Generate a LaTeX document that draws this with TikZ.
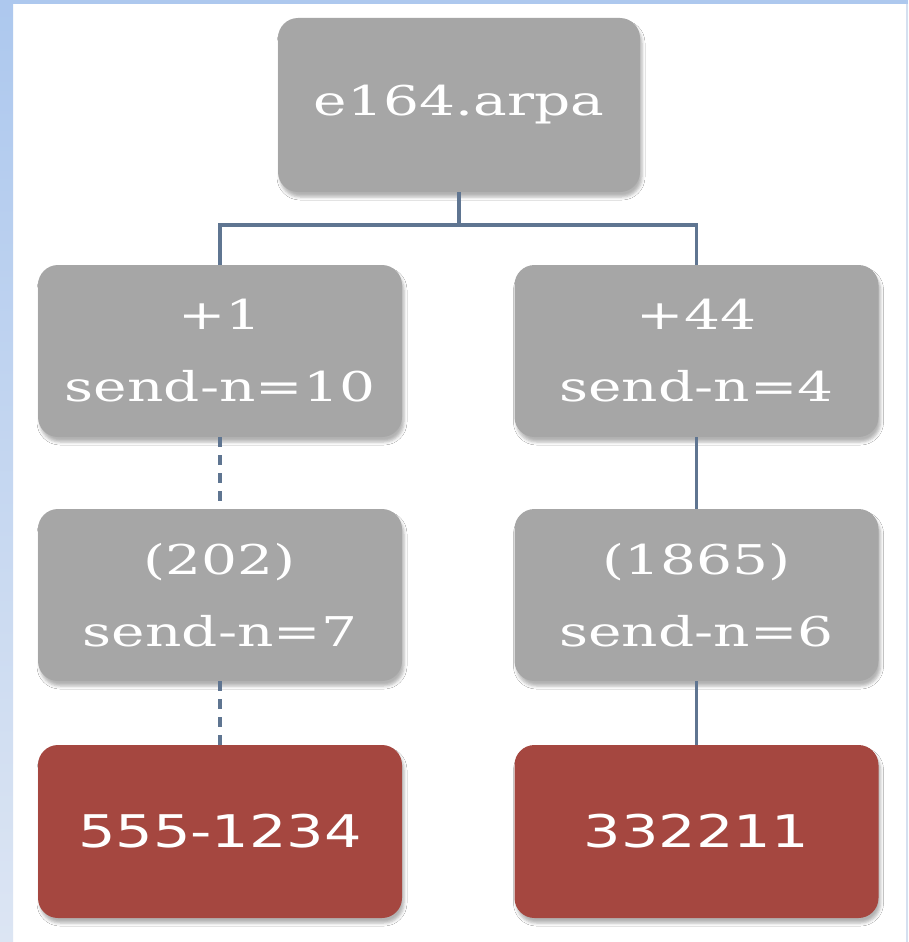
\documentclass[tikz,border=0pt]{standalone}
\usepackage{fontspec}
\usetikzlibrary{shadows.blur}
\newfontfamily\boxserif[FakeStretch=1.38]{DejaVu Serif}
\newfontfamily\boxsans[FakeStretch=1.31]{DejaVu Sans}
\definecolor{boxgray}{RGB}{166,166,166}
\definecolor{boxred}{RGB}{165,71,64}
\definecolor{linkblue}{RGB}{95,117,145}
\definecolor{frametop}{RGB}{173,200,238}
\definecolor{framebot}{RGB}{220,229,243}
\definecolor{frameline}{RGB}{213,224,240}
\tikzset{
  nodebox/.style={rounded corners=20pt, inner sep=0pt, text=white,
    minimum width=364pt, minimum height=172pt, align=center,
    blur shadow={shadow xshift=2pt, shadow yshift=-5pt,
      shadow blur radius=3pt, shadow opacity=30}},
  graybox/.style={nodebox, fill=boxgray,
    font=\boxserif\fontsize{41}{72}\selectfont},
  redbox/.style={nodebox, fill=boxred,
    font=\boxsans\fontsize{45}{54}\selectfont},
  link/.style={draw=linkblue, line width=3.2pt},
  dashlink/.style={link, dash pattern=on 10pt off 8pt},
}
\begin{document}
\begin{tikzpicture}[x=1pt, y=-1pt]
  \useasboundingbox (0,0) rectangle (908,942);
  % page frame
  \fill[white] (0,0) rectangle (908,942);
  \shade[top color=frametop, bottom color=framebot] (0,0) rectangle (13,942);
  \fill[frametop] (0,0) rectangle (908,4);
  \fill[frameline] (906,4) rectangle (908,942);

  % tree nodes
  \node[graybox, minimum width=362pt, minimum height=174pt] (root) at (459,105) {e164.arpa};
  \node[graybox] (us) at (220,351) {\raisebox{4pt}{+1}\\[-4pt]send-n=10};
  \node[graybox] (uk) at (696.5,351) {\raisebox{4pt}{+44}\\[-4pt]send-n=4};
  \node[graybox] (usarea) at (220,595) {(202)\\send-n=7};
  \node[graybox] (ukarea) at (696.5,595) {(1865)\\send-n=6};
  \node[redbox, minimum height=173pt] (usnum) at (220,831.5) {555-1234};
  \node[redbox, minimum height=173pt] (uknum) at (696.5,831.5) {332211};

  % connectors
  \coordinate (fork) at (459,225);
  \draw[link] (root.south) -- (fork);
  \draw[link] (us.north) |- (fork) -| (uk.north);
  \draw[dashlink] (us.south) -- (usarea.north);
  \draw[dashlink] (usarea.south) -- (usnum.north);
  \draw[link] (uk.south) -- (ukarea.north);
  \draw[link] (ukarea.south) -- (uknum.north);
\end{tikzpicture}
\end{document}
